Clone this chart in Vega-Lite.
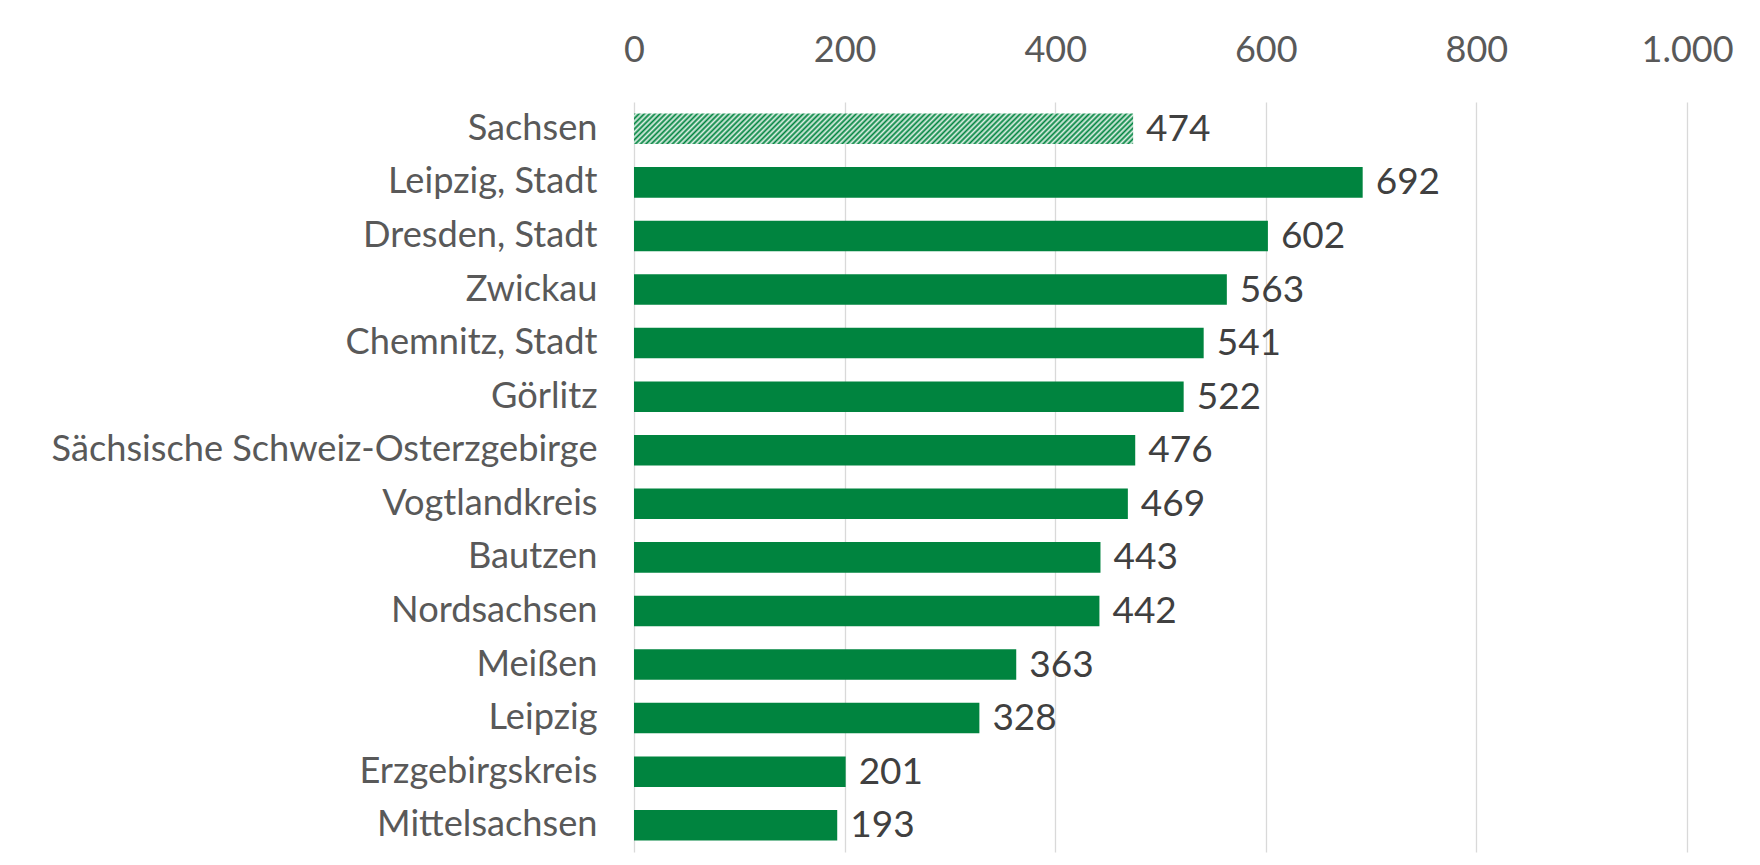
{
  "$schema": "https://vega.github.io/schema/vega-lite/v6.json",
  "width": 1053,
  "height": 750,
  "autosize": {"type": "none"},
  "padding": {"left": 634, "top": 102, "right": 73, "bottom": 13},
  "background": "white",
  "config": {"view": {"stroke": null}, "font": "Lato"},
  "data": {
    "values": [
      {"region": "Sachsen", "value": 474},
      {"region": "Leipzig, Stadt", "value": 692},
      {"region": "Dresden, Stadt", "value": 602},
      {"region": "Zwickau", "value": 563},
      {"region": "Chemnitz, Stadt", "value": 541},
      {"region": "Görlitz", "value": 522},
      {"region": "Sächsische Schweiz-Osterzgebirge", "value": 476},
      {"region": "Vogtlandkreis", "value": 469},
      {"region": "Bautzen", "value": 443},
      {"region": "Nordsachsen", "value": 442},
      {"region": "Meißen", "value": 363},
      {"region": "Leipzig", "value": 328},
      {"region": "Erzgebirgskreis", "value": 201},
      {"region": "Mittelsachsen", "value": 193}
    ]
  },
  "encoding": {
    "y": {
      "field": "region",
      "type": "nominal",
      "sort": null,
      "scale": {"paddingInner": 0.43, "paddingOuter": 0.215},
      "axis": {
        "title": null,
        "domain": false,
        "ticks": false,
        "labelPadding": 37,
        "labelFontSize": 36.2,
        "labelColor": "#595959",
        "labelFont": "Lato",
        "labelLimit": 800
      }
    },
    "x": {
      "field": "value",
      "type": "quantitative",
      "scale": {"domain": [0, 1000], "nice": false},
      "axis": {
        "orient": "top",
        "title": null,
        "domain": false,
        "ticks": false,
        "values": [0, 200, 400, 600, 800, 1000],
        "labelExpr": "replace(format(datum.value, ','), ',', '.')",
        "labelFlush": false,
        "grid": true,
        "gridColor": "#d9d9d9",
        "gridWidth": 1.3,
        "labelPadding": 33,
        "labelFontSize": 36,
        "labelFont": "Lato",
        "labelColor": "#595959"
      }
    }
  },
  "layer": [
    {
      "mark": {"type": "bar"},
      "encoding": {
        "fill": {
          "condition": {
            "test": "datum.region === 'Sachsen'",
            "value": {
              "gradient": "linear",
              "x1": 0, "y1": 0, "x2": 1.0572, "y2": 0.0646,
              "stops": [
                {"offset": 0, "color": "#00843f"}, {"offset": 0.005, "color": "#e2f1e8"},
                {"offset": 0.01, "color": "#00843f"}, {"offset": 0.015, "color": "#e2f1e8"},
                {"offset": 0.02, "color": "#00843f"}, {"offset": 0.025, "color": "#e2f1e8"},
                {"offset": 0.03, "color": "#00843f"}, {"offset": 0.035, "color": "#e2f1e8"},
                {"offset": 0.04, "color": "#00843f"}, {"offset": 0.045, "color": "#e2f1e8"},
                {"offset": 0.05, "color": "#00843f"}, {"offset": 0.055, "color": "#e2f1e8"},
                {"offset": 0.06, "color": "#00843f"}, {"offset": 0.065, "color": "#e2f1e8"},
                {"offset": 0.07, "color": "#00843f"}, {"offset": 0.075, "color": "#e2f1e8"},
                {"offset": 0.08, "color": "#00843f"}, {"offset": 0.085, "color": "#e2f1e8"},
                {"offset": 0.09, "color": "#00843f"}, {"offset": 0.095, "color": "#e2f1e8"},
                {"offset": 0.10, "color": "#00843f"}, {"offset": 0.105, "color": "#e2f1e8"},
                {"offset": 0.11, "color": "#00843f"}, {"offset": 0.115, "color": "#e2f1e8"},
                {"offset": 0.12, "color": "#00843f"}, {"offset": 0.125, "color": "#e2f1e8"},
                {"offset": 0.13, "color": "#00843f"}, {"offset": 0.135, "color": "#e2f1e8"},
                {"offset": 0.14, "color": "#00843f"}, {"offset": 0.145, "color": "#e2f1e8"},
                {"offset": 0.15, "color": "#00843f"}, {"offset": 0.155, "color": "#e2f1e8"},
                {"offset": 0.16, "color": "#00843f"}, {"offset": 0.165, "color": "#e2f1e8"},
                {"offset": 0.17, "color": "#00843f"}, {"offset": 0.175, "color": "#e2f1e8"},
                {"offset": 0.18, "color": "#00843f"}, {"offset": 0.185, "color": "#e2f1e8"},
                {"offset": 0.19, "color": "#00843f"}, {"offset": 0.195, "color": "#e2f1e8"},
                {"offset": 0.20, "color": "#00843f"}, {"offset": 0.205, "color": "#e2f1e8"},
                {"offset": 0.21, "color": "#00843f"}, {"offset": 0.215, "color": "#e2f1e8"},
                {"offset": 0.22, "color": "#00843f"}, {"offset": 0.225, "color": "#e2f1e8"},
                {"offset": 0.23, "color": "#00843f"}, {"offset": 0.235, "color": "#e2f1e8"},
                {"offset": 0.24, "color": "#00843f"}, {"offset": 0.245, "color": "#e2f1e8"},
                {"offset": 0.25, "color": "#00843f"}, {"offset": 0.255, "color": "#e2f1e8"},
                {"offset": 0.26, "color": "#00843f"}, {"offset": 0.265, "color": "#e2f1e8"},
                {"offset": 0.27, "color": "#00843f"}, {"offset": 0.275, "color": "#e2f1e8"},
                {"offset": 0.28, "color": "#00843f"}, {"offset": 0.285, "color": "#e2f1e8"},
                {"offset": 0.29, "color": "#00843f"}, {"offset": 0.295, "color": "#e2f1e8"},
                {"offset": 0.30, "color": "#00843f"}, {"offset": 0.305, "color": "#e2f1e8"},
                {"offset": 0.31, "color": "#00843f"}, {"offset": 0.315, "color": "#e2f1e8"},
                {"offset": 0.32, "color": "#00843f"}, {"offset": 0.325, "color": "#e2f1e8"},
                {"offset": 0.33, "color": "#00843f"}, {"offset": 0.335, "color": "#e2f1e8"},
                {"offset": 0.34, "color": "#00843f"}, {"offset": 0.345, "color": "#e2f1e8"},
                {"offset": 0.35, "color": "#00843f"}, {"offset": 0.355, "color": "#e2f1e8"},
                {"offset": 0.36, "color": "#00843f"}, {"offset": 0.365, "color": "#e2f1e8"},
                {"offset": 0.37, "color": "#00843f"}, {"offset": 0.375, "color": "#e2f1e8"},
                {"offset": 0.38, "color": "#00843f"}, {"offset": 0.385, "color": "#e2f1e8"},
                {"offset": 0.39, "color": "#00843f"}, {"offset": 0.395, "color": "#e2f1e8"},
                {"offset": 0.40, "color": "#00843f"}, {"offset": 0.405, "color": "#e2f1e8"},
                {"offset": 0.41, "color": "#00843f"}, {"offset": 0.415, "color": "#e2f1e8"},
                {"offset": 0.42, "color": "#00843f"}, {"offset": 0.425, "color": "#e2f1e8"},
                {"offset": 0.43, "color": "#00843f"}, {"offset": 0.435, "color": "#e2f1e8"},
                {"offset": 0.44, "color": "#00843f"}, {"offset": 0.445, "color": "#e2f1e8"},
                {"offset": 0.45, "color": "#00843f"}, {"offset": 0.455, "color": "#e2f1e8"},
                {"offset": 0.46, "color": "#00843f"}, {"offset": 0.465, "color": "#e2f1e8"},
                {"offset": 0.47, "color": "#00843f"}, {"offset": 0.475, "color": "#e2f1e8"},
                {"offset": 0.48, "color": "#00843f"}, {"offset": 0.485, "color": "#e2f1e8"},
                {"offset": 0.49, "color": "#00843f"}, {"offset": 0.495, "color": "#e2f1e8"},
                {"offset": 0.50, "color": "#00843f"}, {"offset": 0.505, "color": "#e2f1e8"},
                {"offset": 0.51, "color": "#00843f"}, {"offset": 0.515, "color": "#e2f1e8"},
                {"offset": 0.52, "color": "#00843f"}, {"offset": 0.525, "color": "#e2f1e8"},
                {"offset": 0.53, "color": "#00843f"}, {"offset": 0.535, "color": "#e2f1e8"},
                {"offset": 0.54, "color": "#00843f"}, {"offset": 0.545, "color": "#e2f1e8"},
                {"offset": 0.55, "color": "#00843f"}, {"offset": 0.555, "color": "#e2f1e8"},
                {"offset": 0.56, "color": "#00843f"}, {"offset": 0.565, "color": "#e2f1e8"},
                {"offset": 0.57, "color": "#00843f"}, {"offset": 0.575, "color": "#e2f1e8"},
                {"offset": 0.58, "color": "#00843f"}, {"offset": 0.585, "color": "#e2f1e8"},
                {"offset": 0.59, "color": "#00843f"}, {"offset": 0.595, "color": "#e2f1e8"},
                {"offset": 0.60, "color": "#00843f"}, {"offset": 0.605, "color": "#e2f1e8"},
                {"offset": 0.61, "color": "#00843f"}, {"offset": 0.615, "color": "#e2f1e8"},
                {"offset": 0.62, "color": "#00843f"}, {"offset": 0.625, "color": "#e2f1e8"},
                {"offset": 0.63, "color": "#00843f"}, {"offset": 0.635, "color": "#e2f1e8"},
                {"offset": 0.64, "color": "#00843f"}, {"offset": 0.645, "color": "#e2f1e8"},
                {"offset": 0.65, "color": "#00843f"}, {"offset": 0.655, "color": "#e2f1e8"},
                {"offset": 0.66, "color": "#00843f"}, {"offset": 0.665, "color": "#e2f1e8"},
                {"offset": 0.67, "color": "#00843f"}, {"offset": 0.675, "color": "#e2f1e8"},
                {"offset": 0.68, "color": "#00843f"}, {"offset": 0.685, "color": "#e2f1e8"},
                {"offset": 0.69, "color": "#00843f"}, {"offset": 0.695, "color": "#e2f1e8"},
                {"offset": 0.70, "color": "#00843f"}, {"offset": 0.705, "color": "#e2f1e8"},
                {"offset": 0.71, "color": "#00843f"}, {"offset": 0.715, "color": "#e2f1e8"},
                {"offset": 0.72, "color": "#00843f"}, {"offset": 0.725, "color": "#e2f1e8"},
                {"offset": 0.73, "color": "#00843f"}, {"offset": 0.735, "color": "#e2f1e8"},
                {"offset": 0.74, "color": "#00843f"}, {"offset": 0.745, "color": "#e2f1e8"},
                {"offset": 0.75, "color": "#00843f"}, {"offset": 0.755, "color": "#e2f1e8"},
                {"offset": 0.76, "color": "#00843f"}, {"offset": 0.765, "color": "#e2f1e8"},
                {"offset": 0.77, "color": "#00843f"}, {"offset": 0.775, "color": "#e2f1e8"},
                {"offset": 0.78, "color": "#00843f"}, {"offset": 0.785, "color": "#e2f1e8"},
                {"offset": 0.79, "color": "#00843f"}, {"offset": 0.795, "color": "#e2f1e8"},
                {"offset": 0.80, "color": "#00843f"}, {"offset": 0.805, "color": "#e2f1e8"},
                {"offset": 0.81, "color": "#00843f"}, {"offset": 0.815, "color": "#e2f1e8"},
                {"offset": 0.82, "color": "#00843f"}, {"offset": 0.825, "color": "#e2f1e8"},
                {"offset": 0.83, "color": "#00843f"}, {"offset": 0.835, "color": "#e2f1e8"},
                {"offset": 0.84, "color": "#00843f"}, {"offset": 0.845, "color": "#e2f1e8"},
                {"offset": 0.85, "color": "#00843f"}, {"offset": 0.855, "color": "#e2f1e8"},
                {"offset": 0.86, "color": "#00843f"}, {"offset": 0.865, "color": "#e2f1e8"},
                {"offset": 0.87, "color": "#00843f"}, {"offset": 0.875, "color": "#e2f1e8"},
                {"offset": 0.88, "color": "#00843f"}, {"offset": 0.885, "color": "#e2f1e8"},
                {"offset": 0.89, "color": "#00843f"}, {"offset": 0.895, "color": "#e2f1e8"},
                {"offset": 0.90, "color": "#00843f"}, {"offset": 0.905, "color": "#e2f1e8"},
                {"offset": 0.91, "color": "#00843f"}, {"offset": 0.915, "color": "#e2f1e8"},
                {"offset": 0.92, "color": "#00843f"}, {"offset": 0.925, "color": "#e2f1e8"},
                {"offset": 0.93, "color": "#00843f"}, {"offset": 0.935, "color": "#e2f1e8"},
                {"offset": 0.94, "color": "#00843f"}, {"offset": 0.945, "color": "#e2f1e8"},
                {"offset": 0.95, "color": "#00843f"}, {"offset": 0.955, "color": "#e2f1e8"},
                {"offset": 0.96, "color": "#00843f"}, {"offset": 0.965, "color": "#e2f1e8"},
                {"offset": 0.97, "color": "#00843f"}, {"offset": 0.975, "color": "#e2f1e8"},
                {"offset": 0.98, "color": "#00843f"}, {"offset": 0.985, "color": "#e2f1e8"},
                {"offset": 0.99, "color": "#00843f"}, {"offset": 0.995, "color": "#e2f1e8"},
                {"offset": 1, "color": "#00843f"}
              ]
            }
          },
          "value": "#00843f"
        }
      }
    },
    {
      "mark": {
        "type": "text",
        "align": "left",
        "baseline": "middle",
        "dx": 13,
        "dy": 1,
        "fontSize": 37,
        "font": "Lato",
        "color": "#404040"
      },
      "encoding": {
        "text": {"field": "value", "type": "quantitative"}
      }
    }
  ]
}
